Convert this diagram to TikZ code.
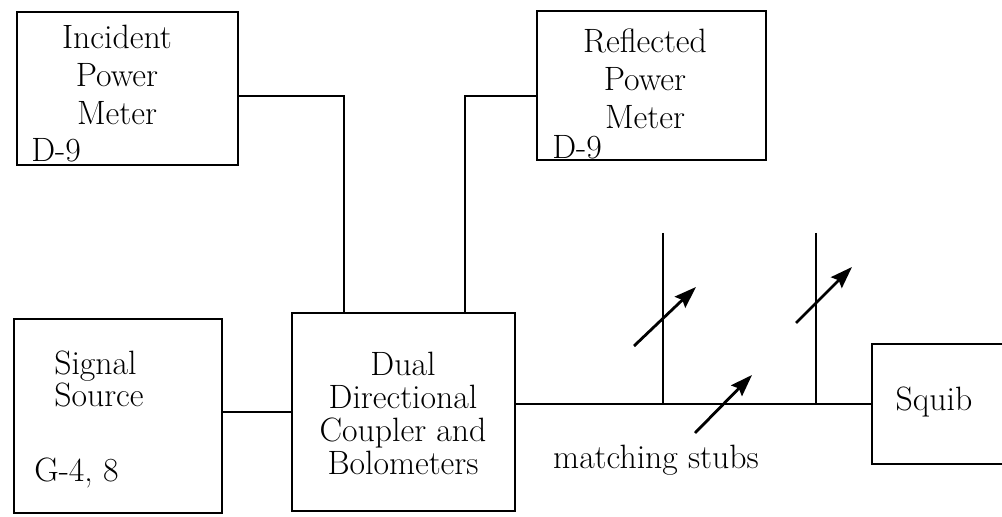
\documentclass[tikz,border=0pt]{standalone}
\usepackage{tikz}
\usetikzlibrary{arrows.meta, positioning, calc}
\tikzset{
  box/.style 2 args={draw, line width=2pt, minimum width=#1*0.025cm, minimum height=#2*0.025cm, inner sep=0pt},
  lbl/.style={font=\fontsize{24}{27}\selectfont, inner sep=0pt},
  wire/.style={line width=1.9pt},
  tune/.style={line width=2pt, -{Stealth[length=0.55cm, width=0.38cm, inset=0.08cm]}}
}
\begin{document}
\begin{tikzpicture}[x=0.025cm, y=-0.025cm]
  \useasboundingbox (0,0) rectangle (1002,517);
  \clip (0,0) rectangle (1002,517);
  \node[box={221}{153}] (inc) at (127.5,88.5) {};
  \node[box={229}{149}] (refl) at (651.5,85.5) {};
  \node[box={208}{194}] (sig) at (118,416) {};
  \node[box={223}{198}] (dc) at (403.5,412) {};
  \node[box={160}{120}] (squib) at (952,404) {};
  \node[lbl, align=center] (inct) at (117,75) {Incident\\Power\\Meter};
  \node[lbl, anchor=base west] (incd) at (31,162) {D-9};
  \node[lbl, align=center] (reflt) at (645,79) {Reflected\\Power\\Meter};
  \node[lbl, anchor=base west] (refld) at (552,159) {D-9};
  \node[lbl, align=left, anchor=west, font=\fontsize{24}{23}\selectfont] (sigt) at (54,379) {Signal\\Source};
  \node[lbl, anchor=west] (sigg) at (34,473) {G-4, 8};
  \node[lbl, align=center, font=\fontsize{24}{23.5}\selectfont] (dct) at (403,413) {Dual\\Directional\\Coupler and\\Bolometers};
  \node[lbl] (squibt) at (934,402) {Squib};
  \node[lbl] (stubt) at (656,460) {matching stubs};
  \coordinate (ti) at (344,96);
  \coordinate (tr) at (465,96);
  \coordinate (s1) at (663,233);
  \coordinate (s2) at (816,233);
  \draw[wire] (inc.east |- ti) -- (ti) -- (ti |- dc.north);
  \draw[wire] (refl.west |- tr) -- (tr) -- (tr |- dc.north);
  \draw[wire] (sig.east |- dc.west) -- (dc.west);
  \draw[wire] (dc.east |- squib.west) -- (squib.west);
  \draw[wire] (s1) -- (s1 |- squib.west);
  \draw[wire] (s2) -- (s2 |- squib.west);
  \draw[tune] ($(s1)+(-29,113)$) -- ++(62,-59);
  \draw[tune] ($(s1)+(32,200)$) -- ++(57,-58);
  \draw[tune] ($(s2)+(-20,90)$) -- ++(56,-56);
\end{tikzpicture}
\end{document}
